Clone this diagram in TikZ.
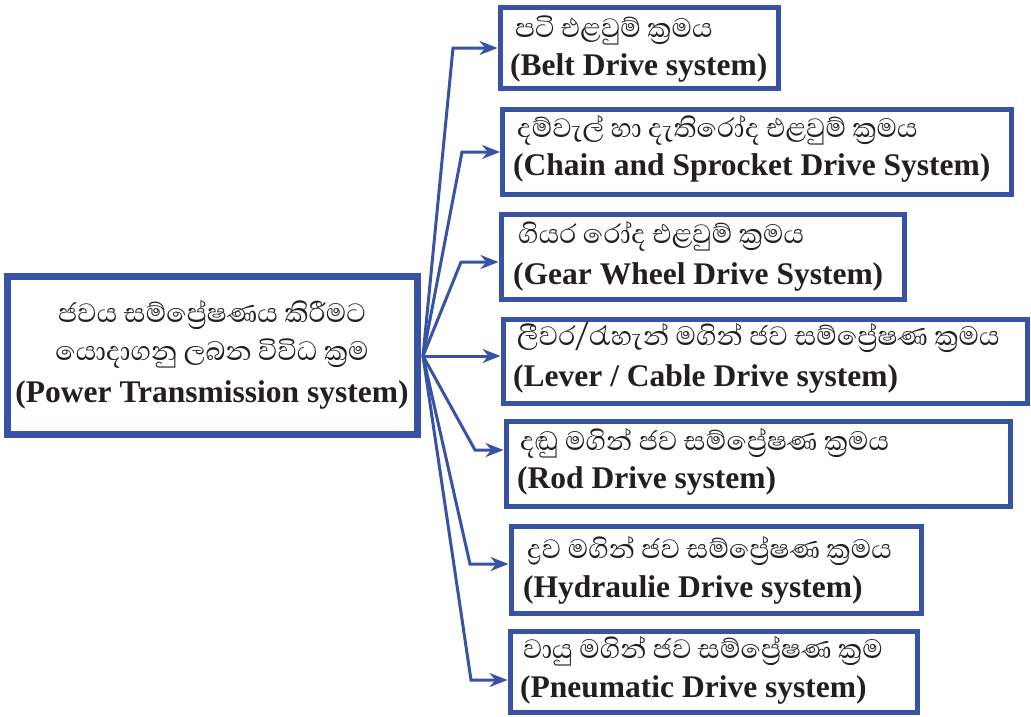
\documentclass[tikz,border=0pt]{standalone}
\usepackage{fontspec}
\setmainfont{Liberation Serif}
\newfontfamily\sinhalafont[Script=Sinhala]{Abhaya Libre}
\usetikzlibrary{arrows.meta}
\definecolor{bblue}{HTML}{3953A4}
\definecolor{tblack}{HTML}{231F20}
\tikzset{
  box/.style={draw=bblue, line width=5pt, rectangle, inner sep=0pt},
  mainbox/.style={draw=bblue, line width=7pt, rectangle, inner sep=0pt},
  si/.style={anchor=base west, inner sep=0pt, text=tblack, font=\sinhalafont\fontsize{34}{40}\selectfont},
  en/.style={anchor=base west, inner sep=0pt, text=tblack, font=\bfseries\fontsize{31.5}{36}\selectfont},
  arr/.style={draw=bblue, line width=3pt, -{Stealth[length=18pt,width=14pt]}}
}
\begin{document}
\begin{tikzpicture}[x=1pt,y=-1pt]
\useasboundingbox (0,0) rectangle (1031,716);
% main box
\node[mainbox, minimum width=410pt, minimum height=158pt] (m) at (212.5,355) {};
\node[si, anchor=base] (m1) at (212,322) {ජවය සම්ප්^^^^200dරේෂණය කිරීමට};
\node[si, anchor=base] (m2) at (212,360) {යොදාගනු ලබන විවිධ ක්^^^^200dරම};
\node[en, anchor=base] (m3) at (212,402) {(Power Transmission system)};
% right boxes
\node[box, minimum width=278pt, minimum height=81pt] (b1) at (639,48) {};
\node[box, minimum width=509pt, minimum height=85pt] (b2) at (757,152) {};
\node[box, minimum width=403pt, minimum height=85pt] (b3) at (702.5,257) {};
\node[box, minimum width=524pt, minimum height=84pt] (b4) at (765,361.5) {};
\node[box, minimum width=504pt, minimum height=85pt] (b5) at (758,463.5) {};
\node[box, minimum width=410pt, minimum height=87pt] (b6) at (716,569.5) {};
\node[box, minimum width=407pt, minimum height=81pt] (b7) at (713.5,671.5) {};
% texts
\node[si] (s1) at (515,37) {පටි එළවුම් ක්^^^^200dරමය};
\node[en] (e1) at (510,75) {(Belt Drive system)};
\node[si] (s2) at (517,137) {දම්වැල් හා දැතිරෝද එළවුම් ක්^^^^200dරමය};
\node[en] (e2) at (513,175) {(Chain and Sprocket Drive System)};
\node[si] (s3) at (518,243) {ගියර රෝද එළවුම් ක්^^^^200dරමය};
\node[en] (e3) at (513,284) {(Gear Wheel Drive System)};
\node[si] (s4) at (517,345) {ලීවර/රැහැන් මගින් ජව සම්ප්^^^^200dරේෂණ ක්^^^^200dරමය};
\node[en] (e4) at (513,386) {(Lever / Cable Drive system)};
\node[si] (s5) at (520,450) {දඬු මගින් ජව සම්ප්^^^^200dරේෂණ ක්^^^^200dරමය};
\node[en] (e5) at (517,488) {(Rod Drive system)};
\node[si] (s6) at (527,558) {ද්^^^^200dරව මගින් ජව සම්ප්^^^^200dරේෂණ ක්^^^^200dරමය};
\node[en] (e6) at (523,597) {(Hydraulie Drive system)};
\node[si] (s7) at (523,658) {වායු මගින් ජව සම්ප්^^^^200dරේෂණ ක්^^^^200dරම};
\node[en] (e7) at (520,697) {(Pneumatic Drive system)};
% connectors
\coordinate (o) at (423,356);
\coordinate (k1) at (453,48);
\coordinate (k2) at (462,152);
\coordinate (k3) at (461,262);
\coordinate (k5) at (475,450);
\coordinate (k6) at (470,564);
\coordinate (k7) at (471,680);
\draw[arr] (o) -- (k1) -- (k1 -| b1.west);
\draw[arr] (o) -- (k2) -- (k2 -| b2.west);
\draw[arr] (o) -- (k3) -- (k3 -| b3.west);
\draw[arr] (o) -- (o -| b4.west);
\draw[arr] (o) -- (k5) -- (k5 -| b5.west);
\draw[arr] (o) -- (k6) -- (k6 -| b6.west);
\draw[arr] (o) -- (k7) -- (k7 -| b7.west);
\end{tikzpicture}
\end{document}
